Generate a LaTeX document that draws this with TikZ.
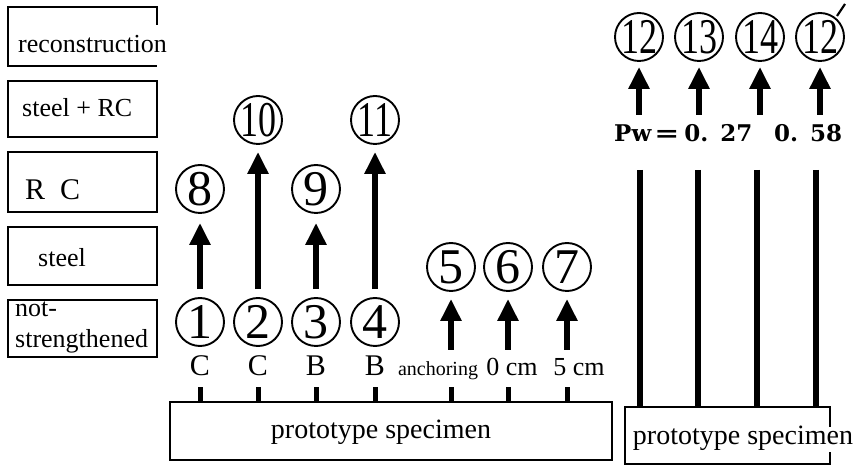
\documentclass[tikz,border=0pt]{standalone}
\usepackage{fontspec}
\usepackage{graphicx}
\setmainfont{Liberation Serif}
\newfontfamily\pwfont{DejaVu Serif}
\usetikzlibrary{arrows.meta}
\newcommand\cnum[1]{\makebox[0pt]{\fontsize{50}{50}\selectfont #1}}
\newcommand\cnumm[1]{\makebox[0pt]{\fontsize{50}{50}\selectfont\scalebox{0.72}[1]{#1}}}
\begin{document}
\begin{tikzpicture}[x=1pt,y=1pt,
  lbox/.style={draw, line width=1.6pt},
  circ/.style={circle, draw, line width=1.9pt, minimum size=48pt, inner sep=0pt},
  arr/.style={line width=6pt, -{Triangle[width=20pt,length=22pt]}},
  post/.style={line width=6pt},
  tickmark/.style={line width=5pt},
  txt/.style={anchor=base west, inner sep=0pt, font=\fontsize{26}{28}\selectfont},
  lab/.style={anchor=base, inner sep=0pt, font=\fontsize{30}{32}\selectfont},
  pw/.style={anchor=base west, inner sep=0pt, font=\pwfont\bfseries\fontsize{23}{25}\selectfont},
]
\useasboundingbox (0,0) rectangle (859,468);

% category boxes
\draw[lbox] (157,443) -- (157,461) -- (8,461) -- (8,402) -- (157,402);
\node[txt] (trec) at (18,415) {reconstruction};
\draw[lbox] (8,331) rectangle (157,387);
\node[txt] (tsrc) at (22,351) {steel + RC};
\draw[lbox] (8,256) rectangle (157,316);
\node[txt, font=\fontsize{30}{32}\selectfont] (trc) at (25,268) {R\kern15pt C};
\draw[lbox] (8,183) rectangle (157,241);
\node[txt] (tst) at (38,201) {steel};
\draw[lbox] (8,111) rectangle (157,168);
\node[txt] (tns1) at (15,151) {not-};
\node[txt] (tns2) at (15,120) {strengthened};

% prototype boxes
\node[lbox, minimum width=442pt, minimum height=58pt, inner sep=0pt] (lproto) at (391,37) {};
\node[anchor=base, inner sep=0pt, font=\fontsize{28}{30}\selectfont] (tlp) at (381,29) {prototype specimen};
\draw[lbox] (830,41) -- (830,61) -- (625,61) -- (625,4) -- (830,4) -- (830,16);
\coordinate (rtop) at (625,61);
\node[anchor=base, inner sep=0pt, font=\fontsize{28}{30}\selectfont] (trp) at (743,23) {prototype specimen};

% circles
\node[circ] (c1) at (200,146) {\cnum{1}};
\node[circ] (c2) at (258,146) {\cnum{2}};
\node[circ] (c3) at (316,146) {\cnum{3}};
\node[circ] (c4) at (375,146) {\cnum{4}};
\node[circ] (c8) at (200,279) {\cnum{8}};
\node[circ] (c9) at (316,279) {\cnum{9}};
\node[circ] (c10) at (258,348) {\cnumm{10}};
\node[circ] (c11) at (375,348) {\cnumm{11}};
\node[circ] (c5) at (451,201) {\cnum{5}};
\node[circ] (c6) at (508,201) {\cnum{6}};
\node[circ] (c7) at (567,201) {\cnum{7}};
\node[circ] (c12) at (639,431) {\cnumm{12}};
\node[circ] (c13) at (699,431) {\cnumm{13}};
\node[circ] (c14) at (760,431) {\cnumm{14}};
\node[circ] (c12p) at (820,431) {\cnumm{12}};
\draw[line width=2.2pt] (837,452) -- (845,464);

% labels under circles
\node[lab] (l1) at (200,92) {C};
\node[lab] (l2) at (258,92) {C};
\node[lab] (l3) at (316,92) {B};
\node[lab] (l4) at (375,92) {B};
\node[lab, font=\fontsize{20}{22}\selectfont] (l5) at (438,92) {anchoring};
\node[lab, font=\fontsize{26}{28}\selectfont] (l6) at (512,92) {0 cm};
\node[lab, font=\fontsize{26}{28}\selectfont] (l7) at (579,92) {5 cm};

% ticks
\foreach \c in {c1,c2,c3,c4,c5,c6,c7}
  \draw[tickmark] (\c |- lproto.north) -- ++(0,14);

% arrows left
\draw[arr, shorten <=8pt, shorten >=9pt] (c1) -- (c8);
\draw[arr, shorten <=8pt, shorten >=7pt] (c2) -- (c10);
\draw[arr, shorten <=8pt, shorten >=9pt] (c3) -- (c9);
\draw[arr, shorten <=8pt, shorten >=7pt] (c4) -- (c11);
\coordinate (t5) at (451,118);
\coordinate (t6) at (508,118);
\coordinate (t7) at (567,118);
\draw[arr, shorten >=7pt] (t5) -- (c5);
\draw[arr, shorten >=7pt] (t6) -- (c6);
\draw[arr, shorten >=7pt] (t7) -- (c7);

% right part
\node[pw] (pw1) at (614,326) {Pw\kern3pt\scalebox{1.3}[1]{=}\kern5pt0.\kern12pt27};
\node[pw] (pw2) at (774,326) {0.\kern12pt58};
\coordinate (a12) at (639,353);
\coordinate (a13) at (699,353);
\coordinate (a14) at (760,353);
\coordinate (a15) at (820,353);
\draw[arr, shorten >=5pt] (a12) -- (c12);
\draw[arr, shorten >=5pt] (a13) -- (c13);
\draw[arr, shorten >=5pt] (a14) -- (c14);
\draw[arr, shorten >=5pt] (a15) -- (c12p);
\coordinate (p12) at (640,298);
\coordinate (p13) at (698,298);
\coordinate (p14) at (757,298);
\coordinate (p15) at (816,298);
\foreach \p in {p12,p13,p14,p15}
  \draw[post] (\p) -- (\p |- rtop);
\end{tikzpicture}
\end{document}
